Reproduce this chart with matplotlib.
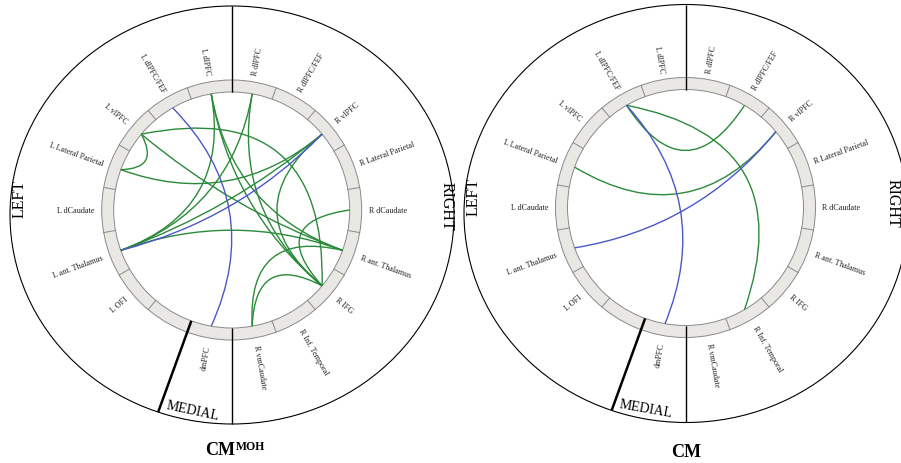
import numpy as np
import matplotlib.pyplot as plt
from matplotlib.patches import Ellipse, Wedge, PathPatch
from matplotlib.path import Path

plt.rcParams['font.family'] = ['Liberation Serif', 'DejaVu Serif']

# regions, clockwise from the top (one slot between dmPFC and L OFI has no label)
regions = ['R dlPFC', 'R dlPFC/FEF', 'R vlPFC', 'R Lateral Parietal', 'R dCaudate',
           'R ant. Thalamus', 'R IFG', 'R Inf. Temporal', 'R vmCaudate', 'dmPFC', '',
           'L OFI', 'L ant. Thalamus', 'L dCaudate', 'L Lateral Parietal', 'L vlPFC',
           'L dlPFC/FEF', 'L dlPFC']

# CM^MOH connections
moh_src = ['L ant. Thalamus', 'L vlPFC', 'L Lateral Parietal', 'L vlPFC', 'L vlPFC',
           'L dlPFC', 'L dlPFC', 'L dlPFC', 'R dlPFC', 'R dlPFC', 'L ant. Thalamus',
           'R vlPFC', 'R dCaudate', 'R vmCaudate', 'R vmCaudate',
           'L dlPFC/FEF', 'L ant. Thalamus']
moh_dst = ['R vlPFC', 'L Lateral Parietal', 'R vlPFC', 'R IFG', 'R ant. Thalamus',
           'R IFG', 'R ant. Thalamus', 'L ant. Thalamus', 'R IFG', 'L ant. Thalamus',
           'R ant. Thalamus', 'R IFG', 'R IFG', 'R IFG', 'R ant. Thalamus',
           'dmPFC', 'R vlPFC']
moh_kind = ['pos'] * 15 + ['neg', 'neg']
moh_bend = [0.0, 0.7, 0.0, 1.25, 0.0, 0.0, 0.0, 0.0, 0.0, 0.0, 0.0, 0.0, 0.3, 0.4, 0.2,
            -0.3, -0.1]

# CM connections
cm_src = ['L dlPFC/FEF', 'L dlPFC/FEF', 'L Lateral Parietal', 'L dlPFC/FEF', 'L ant. Thalamus']
cm_dst = ['R dlPFC/FEF', 'R Inf. Temporal', 'R vlPFC', 'dmPFC', 'R vlPFC']
cm_kind = ['pos', 'pos', 'pos', 'neg', 'neg']
cm_bend = [0.1, 1.15, -0.25, -0.25, -0.2]

colors = {'pos': '#2b8a3a', 'neg': '#4a58c6'}
n = len(regions)
R_IN, R_OUT, R_LAB = 118, 130, 137
OUT_W, OUT_H = 444, 418


def ang(name):
    return (regions.index(name) + 0.5) * 360.0 / n


def pt(c, r, deg):
    t = np.radians(deg)
    return np.array([c[0] + r * np.sin(t), c[1] - r * np.cos(t)])


def to_ellipse(c, oc, deg):
    # where a ray from the ring centre meets the outer ellipse
    t = np.radians(deg)
    d = np.array([np.sin(t), -np.cos(t)])
    p = np.array(c) - np.array(oc)
    a2, b2 = (OUT_W / 2) ** 2, (OUT_H / 2) ** 2
    A = d[0] ** 2 / a2 + d[1] ** 2 / b2
    B = 2 * (p[0] * d[0] / a2 + p[1] * d[1] / b2)
    C = p[0] ** 2 / a2 + p[1] ** 2 / b2 - 1
    s = (-B + np.sqrt(B * B - 4 * A * C)) / (2 * A)
    return np.array(c) + s * d


def chart(ax, c, oc, src, dst, kind, bend, medial_xy, medial_rot, right_dx):
    ax.add_patch(Ellipse(oc, OUT_W, OUT_H, fill=False, ec='black', lw=0.8))
    ax.add_patch(Wedge(c, R_OUT, 0, 360, width=R_OUT - R_IN, fc='#e9e8e5', ec='#8a8a8a', lw=0.7))
    for k in range(n):
        a = k * 360.0 / n
        p0, p1 = pt(c, R_IN, a), pt(c, R_OUT, a)
        ax.plot([p0[0], p1[0]], [p0[1], p1[1]], color='#8a8a8a', lw=0.7)
    for a, w in [(0, 1.0), (180, 1.0), (200, 1.8)]:
        p0, p1 = pt(c, R_IN, a), to_ellipse(c, oc, a)
        ax.plot([p0[0], p1[0]], [p0[1], p1[1]], color='black', lw=w, solid_capstyle='butt')

    for k, name in enumerate(regions):
        a = (k + 0.5) * 360.0 / n
        p = pt(c, R_LAB, a)
        if a < 180:
            rot, ha = 90 - a, 'left'
        else:
            rot, ha = 270 - a, 'right'
        ax.text(p[0], p[1], name, rotation=rot, ha=ha, va='center',
                rotation_mode='anchor', fontsize=5.9, color='#222222')

    order = [i for i in range(len(src)) if kind[i] == 'pos'] + \
            [i for i in range(len(src)) if kind[i] == 'neg']
    for i in order:
        a1, a2 = ang(src[i]), ang(dst[i])
        d = (a2 - a1) % 360
        mid = a1 + d / 2 if d <= 180 else a1 - (360 - d) / 2
        p0, p2 = pt(c, R_IN, a1), pt(c, R_IN, a2)
        cp = pt(c, bend[i] * R_IN, mid) if bend[i] >= 0 else pt(c, -bend[i] * R_IN, mid + 180)
        path = Path([p0, cp, p2], [Path.MOVETO, Path.CURVE3, Path.CURVE3])
        ax.add_patch(PathPatch(path, fill=False, ec=colors[kind[i]], lw=1.0))

    ax.text(oc[0] - 212, c[1] - 12, 'LEFT', rotation=90, ha='center', va='center', fontsize=11.5)
    ax.text(oc[0] + right_dx, c[1] - 5, 'RIGHT', rotation=-90, ha='center', va='center',
            fontsize=11.5)
    ax.text(medial_xy[0], medial_xy[1], 'MEDIAL', rotation=medial_rot, ha='center',
            va='center', fontsize=10)


fig = plt.figure(figsize=(9.01, 4.64), dpi=100)
ax = fig.add_axes([0, 0, 1, 1])
ax.set_xlim(0, 901)
ax.set_ylim(464, 0)
ax.axis('off')

chart(ax, (231.7, 211), (232, 216), moh_src, moh_dst, moh_kind, moh_bend, (193, 411), -12, 215)
chart(ax, (685.5, 208.5), (686, 214.5), cm_src, cm_dst, cm_kind, cm_bend, (646, 409), -10, 207)

ax.text(235.5, 455, 'CM', ha='right', va='baseline', fontsize=13, fontweight='bold')
ax.text(236, 450, 'MOH', ha='left', va='baseline', fontsize=8.5, fontweight='bold')
ax.text(686, 457, 'CM', ha='center', va='baseline', fontsize=13, fontweight='bold')

fig.savefig('out.png', dpi=100)
